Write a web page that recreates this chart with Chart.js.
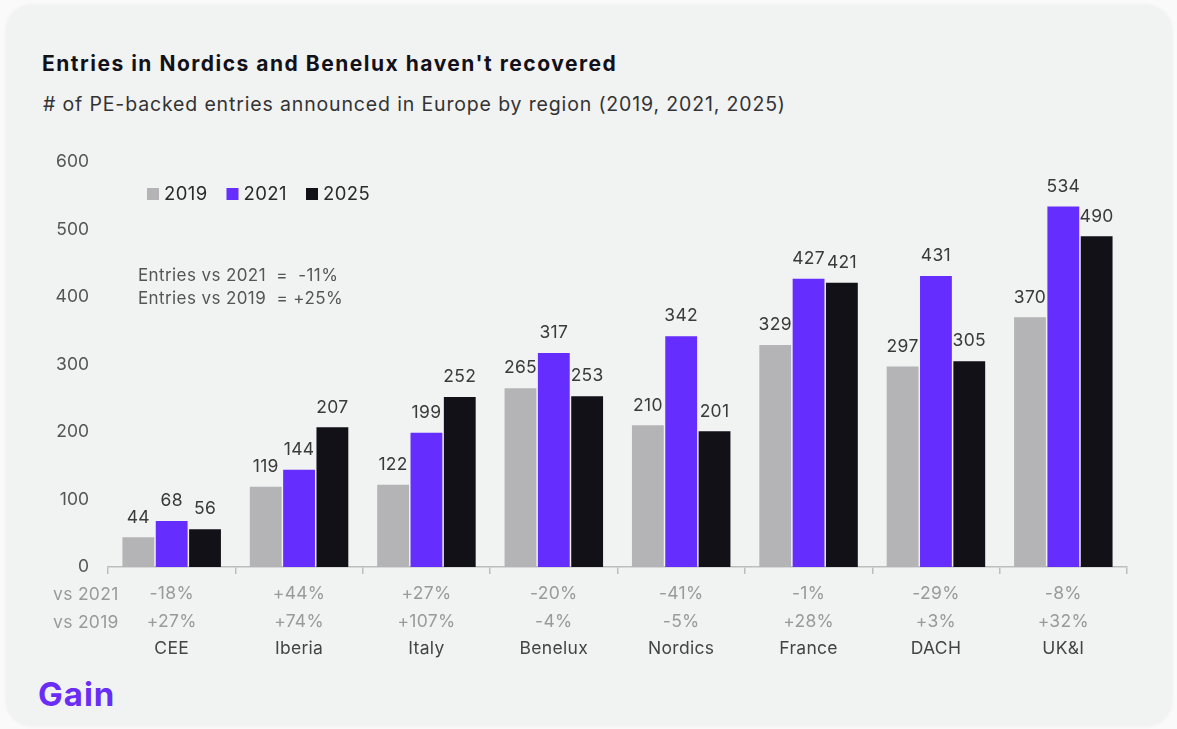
<!DOCTYPE html>
<html>
<head>
<meta charset="utf-8">
<script src="https://cdn.jsdelivr.net/npm/chart.js@4.4.1/dist/chart.umd.min.js"></script>
<style>
  html, body { margin: 0; padding: 0; background: #fafafa; }
  body { width: 1177px; height: 729px; position: relative; overflow: hidden; font-family: Inter, "Noto Sans", sans-serif; }
  .card { position: absolute; left: 6px; top: 5px; width: 1166px; height: 721px; background: #f1f2f2; border-radius: 26px; box-shadow: 0 0 4px rgba(0,0,0,0.05); }
  .title { position: absolute; left: 42px; top: 51px; font-size: 21px; font-weight: 700; color: #131118; letter-spacing: 1.5px; white-space: nowrap; }
  .subtitle { position: absolute; left: 43px; top: 92px; font-size: 19.5px; color: #333; letter-spacing: 0.85px; white-space: nowrap; }
  .logo { position: absolute; left: 38px; top: 674px; font-size: 33px; font-weight: 700; color: #6a2df6; letter-spacing: 1px; }
  canvas { position: absolute; left: 0; top: 0; }
</style>
</head>
<body>
<div class="card"></div>
<div class="title">Entries in Nordics and Benelux haven't recovered</div>
<div class="subtitle"># of PE-backed entries announced in Europe by region (2019, 2021, 2025)</div>
<div class="logo">Gain</div>
<canvas id="c" width="1177" height="729"></canvas>
<script>
// Regions and yearly PE-backed entry counts
const regions = ['CEE', 'Iberia', 'Italy', 'Benelux', 'Nordics', 'France', 'DACH', 'UK&I'];
const years = ['2019', '2021', '2025'];
const entries2019 = [44, 119, 122, 265, 210, 329, 297, 370];
const entries2021 = [68, 144, 199, 317, 342, 427, 431, 534];
const entries2025 = [56, 207, 252, 253, 201, 421, 305, 490];
// Change of 2025 entries against earlier years
const changeVs2021 = ['-18%', '+44%', '+27%', '-20%', '-41%', '-1%', '-29%', '-8%'];
const changeVs2019 = ['+27%', '+74%', '+107%', '-4%', '-5%', '+28%', '+3%', '+32%'];
const rowLabels = ['vs 2021', 'vs 2019'];
const totalNotes = ['Entries vs 2021  =  -11%', 'Entries vs 2019  = +25%'];
const yTicks = [0, 100, 200, 300, 400, 500, 600];

const colors = ['#b4b4b6', '#652dfe', '#131118'];
const FONT = 'Inter, "Noto Sans", sans-serif';

// Value labels above each bar
const valueLabels = {
  id: 'valueLabels',
  afterDatasetsDraw(chart) {
    const ctx = chart.ctx;
    ctx.save();
    ctx.font = '17.5px ' + FONT;
    ctx.letterSpacing = '0.3px';
    ctx.fillStyle = '#3a3a3a';
    ctx.textAlign = 'center';
    ctx.textBaseline = 'middle';
    chart.data.datasets.forEach((ds, i) => {
      chart.getDatasetMeta(i).data.forEach((bar, j) => {
        ctx.fillText(String(ds.data[j]), bar.x, bar.y - 20);
      });
    });
    ctx.restore();
  }
};

// Legend, totals note and the rows under the axis
const extras = {
  id: 'extras',
  afterDraw(chart) {
    const ctx = chart.ctx;
    const x = chart.scales.x;
    ctx.save();
    // legend
    ctx.font = '18.5px ' + FONT;
    ctx.letterSpacing = '0.4px';
    ctx.textBaseline = 'middle';
    ctx.textAlign = 'left';
    const ly = 194;
    chart.data.datasets.forEach((ds, i) => {
      const lx = 147 + i * 79.5;
      ctx.fillStyle = ds.backgroundColor;
      ctx.fillRect(lx, ly - 6, 12, 12);
      ctx.fillStyle = '#2a2a2a';
      ctx.fillText(ds.label, lx + 17, ly);
    });
    // totals note
    ctx.font = '17px ' + FONT;
    ctx.letterSpacing = '0.4px';
    ctx.fillStyle = '#555';
    ctx.fillText(totalNotes[0], 138, 276);
    ctx.fillText(totalNotes[1], 138, 299);
    // row headers
    ctx.font = '17.5px ' + FONT;
    ctx.letterSpacing = '0.3px';
    ctx.fillStyle = '#9a9a9a';
    ctx.fillText(rowLabels[0], 53, 595);
    ctx.fillText(rowLabels[1], 53, 623);
    // per-region rows
    ctx.textAlign = 'center';
    regions.forEach((r, i) => {
      const cx = x.getPixelForValue(i);
      ctx.fillStyle = '#9a9a9a';
      ctx.fillText(changeVs2021[i], cx, 594);
      ctx.fillText(changeVs2019[i], cx, 622);
      ctx.fillStyle = '#444';
      ctx.fillText(r, cx, 649);
    });
    ctx.restore();
  }
};

new Chart(document.getElementById('c'), {
  type: 'bar',
  data: {
    labels: regions,
    datasets: [
      { label: years[0], data: entries2019, backgroundColor: colors[0] },
      { label: years[1], data: entries2021, backgroundColor: colors[1] },
      { label: years[2], data: entries2025, backgroundColor: colors[2] }
    ]
  },
  options: {
    responsive: false,
    animation: false,
    devicePixelRatio: 1,
    layout: { padding: { left: 0, right: 50, top: 162, bottom: 62 } },
    datasets: { bar: { categoryPercentage: 0.785, barPercentage: 0.955 } },
    plugins: { legend: { display: false }, tooltip: { enabled: false } },
    scales: {
      x: {
        grid: { drawOnChartArea: false, drawTicks: true, tickLength: 7, color: '#bdbdbd', lineWidth: 1.5 },
        border: { color: '#bdbdbd', width: 1.5 },
        ticks: { display: false },
        afterFit(s) { s.height = 100; }
      },
      y: {
        min: 0, max: 600,
        afterBuildTicks(s) { s.ticks = yTicks.map(v => ({ value: v })); },
        grid: { display: false, drawTicks: false },
        border: { display: false },
        ticks: { color: '#555', font: { size: 17.5, family: FONT }, padding: 19 },
        afterFit(s) { s.width = 108; }
      }
    }
  },
  plugins: [valueLabels, extras]
});
</script>
</body>
</html>
